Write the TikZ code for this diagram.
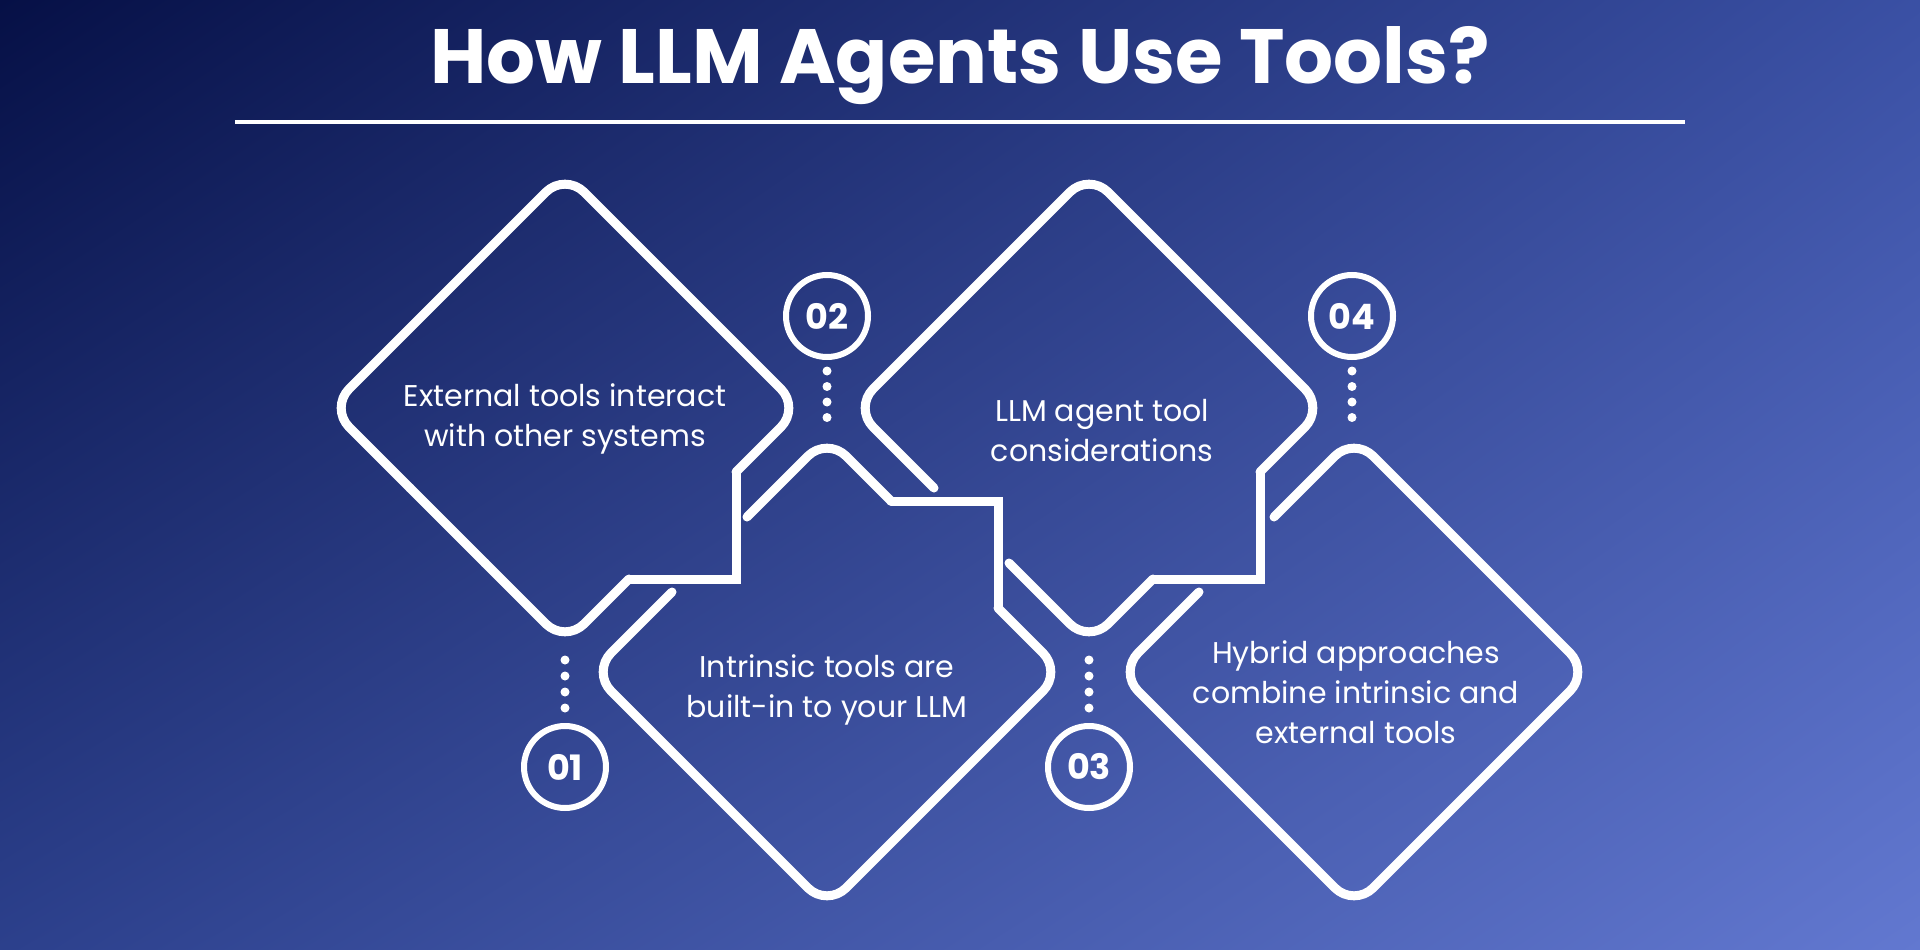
\documentclass[tikz,border=0pt]{standalone}
\usepackage{fontspec}
\setmainfont{Poppins}
\usetikzlibrary{shadings}
\definecolor{bgul}{RGB}{6,16,70}
\definecolor{bgur}{RGB}{58,80,164}
\definecolor{bgll}{RGB}{44,64,140}
\definecolor{bglr}{RGB}{98,120,208}
\begin{document}
\begin{tikzpicture}[x=1pt,y=-1pt,
  edge/.style={draw=white,line width=9pt,line cap=round},
  rnd/.style={edge,rounded corners=27pt,line join=round},
  stp/.style={edge,line join=miter},
  body/.style={text=white,font=\fontsize{30}{40}\selectfont,align=center},
  num/.style={circle,draw=white,line width=6pt,minimum size=82pt,inner sep=0pt,text=white,font=\fontsize{35}{35}\selectfont\bfseries},
  dot/.style={circle,fill=white,inner sep=0pt,minimum size=9pt}]
\shade[upper left=bgul,upper right=bgur,lower left=bgll,lower right=bglr]
  (0,0) rectangle (1920,950);
\useasboundingbox (0,0) rectangle (1920,950);
% title
\node[text=white,font=\fontsize{77}{77}\selectfont\bfseries] (title) at (960,66) {How LLM Agents Use Tools?};
\coordinate (ul) at (235,122); \coordinate (ur) at (1685,122);
\draw[white,line width=4pt] (ul) -- (ur);
% diamonds with step on lower-right (D1, D3)
\foreach \cx/\cy in {565/408,1089/408}{
  \begin{scope}[shift={(\cx,\cy)}]
  \draw[rnd] (171,64) -- (235,0) -- (0,-235) -- (-235,0) -- (-155,80);
  \draw[rnd] (-80,155) -- (0,235) -- (64,171);
  \draw[stp] (64,171) -- (171,171) -- (171,64);
  \end{scope}}
\begin{scope}[shift={(565,408)}]
  \draw[edge] (-155,80) -- (-80,155);
\end{scope}
\begin{scope}[shift={(827,672)}]
  \draw[rnd] (-80,-155) -- (0,-235) -- (64,-171);
  \draw[stp] (64,-171) -- (171,-171) -- (171,-64);
  \draw[rnd] (171,-64) -- (235,0) -- (0,235) -- (-235,0) -- (-155,-80);
\end{scope}
\begin{scope}[shift={(1354,672)}]
  \draw[rnd] (-80,-155) -- (0,-235) -- (235,0) -- (0,235) -- (-235,0) -- (-155,-80);
\end{scope}
% texts
\node[body] (t1) at (565,419) {External tools interact\\with other systems};
\node[body] (t2) at (827,690) {Intrinsic tools are\\built-in to your LLM};
\node[body] (t3) at (1102,431) {LLM agent tool\\considerations};
\node[body] (t4) at (1356,692) {Hybrid approaches\\combine intrinsic and\\external tools};
% numbers
\node[num] (n1) at (565,767) {01};
\node[num] (n2) at (827,316) {02};
\node[num] (n3) at (1089,767) {03};
\node[num] (n4) at (1352,316) {04};
\foreach \n/\x in {2/827,4/1352}{
  \foreach \i in {0,1,2,3}{\node[dot] (d\n\i) at (\x,371+15.5*\i) {};}}
\foreach \n/\x in {1/565,3/1089}{
  \foreach \i in {0,1,2,3}{\node[dot] (d\n\i) at (\x,660+16*\i) {};}}
\end{tikzpicture}
\end{document}
